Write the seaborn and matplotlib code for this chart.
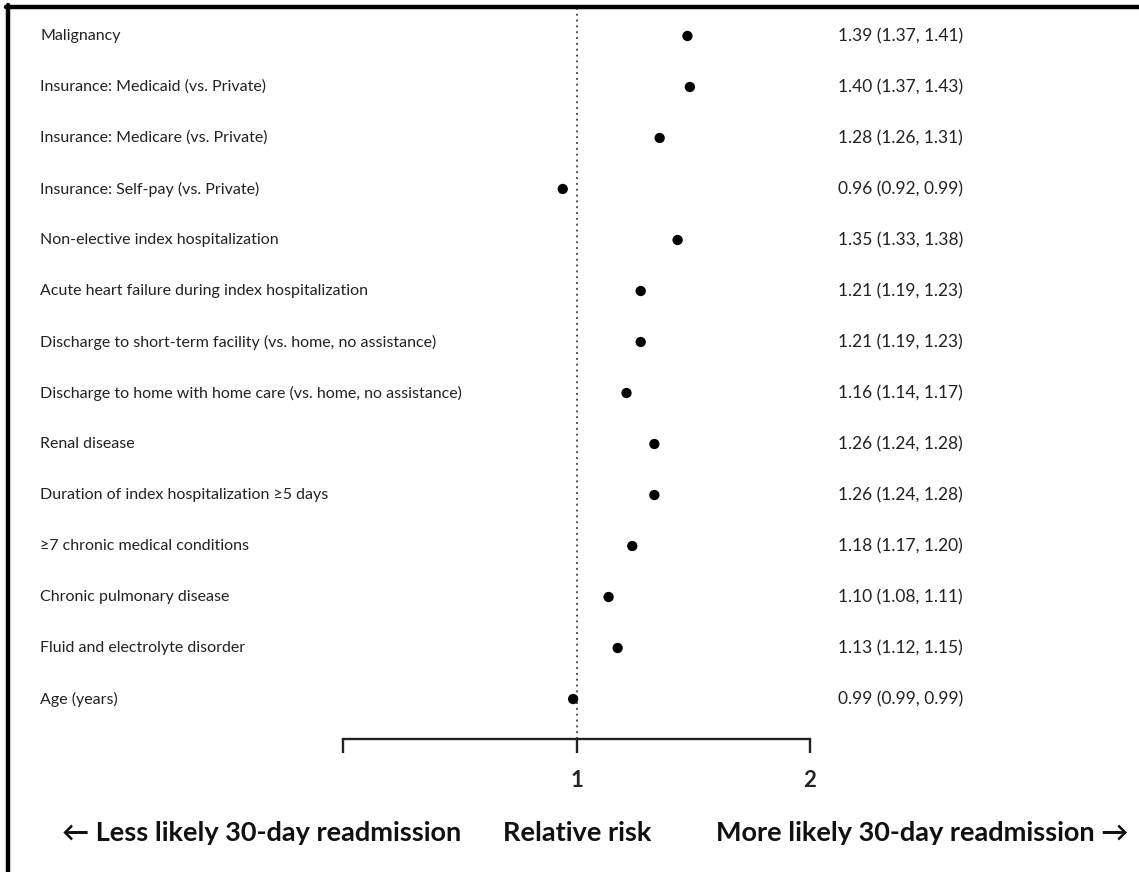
import matplotlib
matplotlib.use("Agg")
import matplotlib.pyplot as plt
from matplotlib.lines import Line2D
from matplotlib.transforms import blended_transform_factory
import numpy as np
import pandas as pd
import seaborn as sns

# Predictors of 30-day readmission, relative risk with 95% CI
factors = [
    "Malignancy",
    "Insurance: Medicaid (vs. Private)",
    "Insurance: Medicare (vs. Private)",
    "Insurance: Self-pay (vs. Private)",
    "Non-elective index hospitalization",
    "Acute heart failure during index hospitalization",
    "Discharge to short-term facility (vs. home, no assistance)",
    "Discharge to home with home care (vs. home, no assistance)",
    "Renal disease",
    "Duration of index hospitalization \u22655 days",
    "\u22657 chronic medical conditions",
    "Chronic pulmonary disease",
    "Fluid and electrolyte disorder",
    "Age (years)",
]
rr = [1.39, 1.40, 1.28, 0.96, 1.35, 1.21, 1.21, 1.16, 1.26, 1.26, 1.18, 1.10, 1.13, 0.99]
ci_low = [1.37, 1.37, 1.26, 0.92, 1.33, 1.19, 1.19, 1.14, 1.24, 1.24, 1.17, 1.08, 1.12, 0.99]
ci_high = [1.41, 1.43, 1.31, 0.99, 1.38, 1.23, 1.23, 1.17, 1.28, 1.28, 1.20, 1.11, 1.15, 0.99]
x_ticks = [0.5, 1, 2]
x_tick_labels = ["", "1", "2"]

df = pd.DataFrame({"factor": factors, "rr": rr, "lo": ci_low, "hi": ci_high})
df["row"] = np.arange(len(df))

sns.set_theme(style="white")
plt.rcParams["font.family"] = ["Lato", "DejaVu Sans"]

W, H = 1139, 872
fig = plt.figure(figsize=(W / 100, H / 100), dpi=100)
fig.patch.set_facecolor("white")

ax = fig.add_axes([343 / W, 1 - 739 / H, 467 / W, 730 / H])
ax.set_xscale("log", base=2)
ax.set_xlim(0.5, 2)
ax.set_ylim(13.784, -0.529)

# reference line at RR = 1
ax.axvline(1, color="#555555", linestyle=(0, (1, 2)), linewidth=1.4, zorder=1)

sns.scatterplot(data=df, x="rr", y="row", ax=ax, s=55, color="black",
                edgecolor="none", legend=False, zorder=3)

for s in ["top", "right", "left"]:
    ax.spines[s].set_visible(False)
ax.spines["bottom"].set_linewidth(1.7)
ax.spines["bottom"].set_color("#222222")
ax.set_xticks(x_ticks)
ax.set_xticklabels(x_tick_labels, fontsize=16, fontweight="bold")
ax.xaxis.set_minor_locator(matplotlib.ticker.NullLocator())
ax.tick_params(axis="x", direction="out", length=10, width=1.7, color="#222222",
               pad=12, bottom=True)
ax.set_yticks([])
ax.set_xlabel("")
ax.set_ylabel("")

# row labels on the left, estimates on the right
tr = blended_transform_factory(fig.transFigure, ax.transData)
for _, r in df.iterrows():
    ax.text(40 / W, r["row"], r["factor"], transform=tr, ha="left", va="center",
            fontsize=11.5, color="#222222")
    ax.text(838 / W, r["row"], f"{r['rr']:.2f} ({r['lo']:.2f}, {r['hi']:.2f})",
            transform=tr, ha="left", va="center", fontsize=12.5, color="#222222")

# direction captions
fy = 1 - 833 / H
fig.text(62 / W, fy, "\u2190 Less likely 30-day readmission", ha="left", va="center",
         fontsize=19.5, fontweight="bold", color="#111111")
fig.text(577 / W, fy, "Relative risk", ha="center", va="center",
         fontsize=19.5, fontweight="bold", color="#111111")
fig.text(1128 / W, fy, "More likely 30-day readmission \u2192", ha="right", va="center",
         fontsize=19.5, fontweight="bold", color="#111111")

# frame lines along top and left edges
fig.add_artist(Line2D([6 / W, 1.0], [1 - 7 / H, 1 - 7 / H], color="black",
                      linewidth=3.2, transform=fig.transFigure))
fig.add_artist(Line2D([8 / W, 8 / W], [1 - 5 / H, 0.0], color="black",
                      linewidth=3.2, transform=fig.transFigure))

fig.savefig("out.png", dpi=100, facecolor="white")
